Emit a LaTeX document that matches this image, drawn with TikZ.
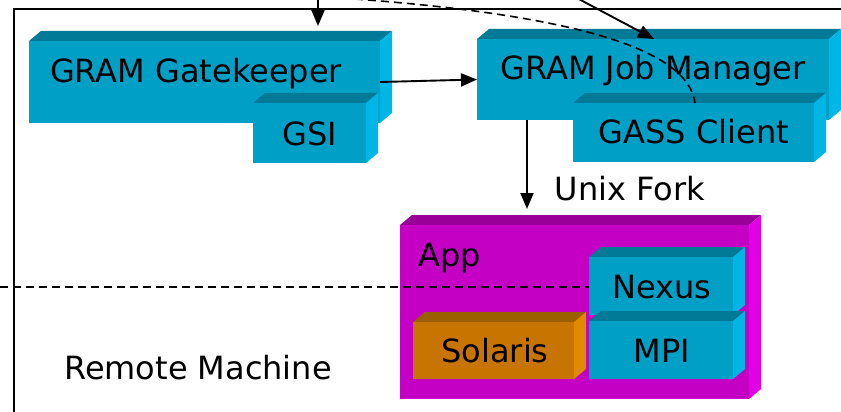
\documentclass[tikz,border=0pt]{standalone}
\usepackage{fontspec}
\setmainfont{DejaVu Sans}
\usetikzlibrary{arrows.meta,calc}
\definecolor{bfront}{HTML}{009FC6}
\definecolor{btop}{HTML}{007A96}
\definecolor{bside}{HTML}{00B6E6}
\definecolor{mfront}{HTML}{C400C4}
\definecolor{mtop}{HTML}{980098}
\definecolor{mside}{HTML}{E400E4}
\definecolor{ofront}{HTML}{C87400}
\definecolor{otop}{HTML}{9A6000}
\definecolor{oside}{HTML}{E08A00}
\tikzset{
  face/.style={inner sep=0pt, outer sep=0pt, anchor=north west},
  lbl/.style={font=\fontsize{32}{38}\selectfont, anchor=base, inner sep=0pt},
  arr/.style={line width=1.9pt, -{Triangle[length=16pt,width=13pt]}},
  dsh/.style={line width=1.6pt, dash pattern=on 8pt off 5pt},
}
\newcommand\mybox[8]{%
  \fill[#7] (#2,#3) -- (#2+12,#3-10) -- (#4+12,#3-10) -- (#4,#3) -- cycle;
  \fill[#8] (#4,#3) -- (#4+12,#3-10) -- (#4+12,#5-10) -- (#4,#5) -- cycle;
  \node[face, fill=#6, minimum width={(#4-#2)*1pt}, minimum height={(#5-#3)*1pt}] (#1) at (#2,#3) {};
}
\begin{document}
\begin{tikzpicture}[x=1pt,y=-1pt]
\useasboundingbox (0,0) rectangle (841,412);
\fill[white] (0,0) rectangle (841,412);
% frame
\draw[line width=1.9pt] (845,9) -- (14,9) -- (14,416);
% boxes
\mybox{gk}{29}{41}{380}{123}{bfront}{btop}{bside}
\node[lbl] (gkt) at (196,83) {GRAM Gatekeeper};
\mybox{gsi}{253}{103}{366}{163}{bfront}{btop}{bside}
\node[lbl] (gsit) at (310,145) {GSI};
\mybox{jm}{477}{39}{829}{120}{bfront}{btop}{bside}
\node[lbl] (jmt) at (653,80) {GRAM Job Manager};
\mybox{gass}{573}{103}{814}{162}{bfront}{btop}{bside}
\node[lbl] (gasst) at (694,143) {GASS Client};
\mybox{app}{400}{225}{749}{399}{mfront}{mtop}{mside}
\node[lbl] (appt) at (450,266) {App};
\coordinate (dl) at (0,287);
\coordinate (dr) at (589,287);
\draw[dsh] (dl) -- (dr);
\mybox{nexus}{589}{257}{733}{315}{bfront}{btop}{bside}
\node[lbl] (nexust) at (662,298) {Nexus};
\mybox{mpi}{589}{321}{733}{379}{bfront}{btop}{bside}
\node[lbl] (mpit) at (662,362) {MPI};
\mybox{sol}{413}{322}{574}{379}{ofront}{otop}{oside}
\node[lbl] (solt) at (495,362) {Solaris};
\node[lbl] (rm) at (198,379) {Remote Machine};
% connectors
\coordinate (a1s) at (318,-2);
\coordinate (a1e) at (318,26);
\draw[arr] (a1s) -- (a1e);
\coordinate (a2s) at (575,-3);
\coordinate (a2e) at (654,39);
\draw[arr] (a2s) -- (a2e);
\coordinate (cs) at (355,-1);
\coordinate (ce) at (695,103);
\draw[dsh] (cs) .. controls (570,15) and (688,48) .. (ce);
\draw[arr] (gk.east) -- (jm.west);
\coordinate (fs) at (527,120);
\coordinate (fe) at (527,209);
\draw[arr] (fs) -- (fe);
\node[lbl] (uf) at (630,200) {Unix Fork};
\end{tikzpicture}
\end{document}
